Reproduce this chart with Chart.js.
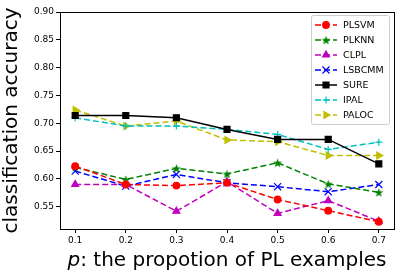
<!DOCTYPE html>
<html>
<head>
<meta charset="utf-8">
<script src="https://cdn.jsdelivr.net/npm/chart.js@4.4.0/dist/chart.umd.min.js"></script>
<style>
html, body { margin: 0; padding: 0; background: #fff; }
</style>
</head>
<body>
<canvas id="myChart" width="404" height="280"></canvas>
<script>
/* Datos */
const proporciones = [0.1, 0.2, 0.3, 0.4, 0.5, 0.6, 0.7];
const plsvm  = [0.623, 0.590, 0.588, 0.593, 0.563, 0.543, 0.523];
const plknn  = [0.621, 0.599, 0.619, 0.609, 0.629, 0.591, 0.576];
const clpl   = [0.590, 0.590, 0.542, 0.595, 0.538, 0.561, 0.524];
const lsbcmm = [0.614, 0.587, 0.608, 0.593, 0.586, 0.577, 0.590];
const sure   = [0.714, 0.714, 0.710, 0.689, 0.671, 0.671, 0.627];
const ipal   = [0.710, 0.695, 0.695, 0.689, 0.680, 0.653, 0.666];
const paloc  = [0.724, 0.695, 0.704, 0.670, 0.667, 0.642, 0.642];
const yTicks = [0.55, 0.60, 0.65, 0.70, 0.75, 0.80, 0.85, 0.90];
const xTicks = [0.1, 0.2, 0.3, 0.4, 0.5, 0.6, 0.7];

const FONT = '"DejaVu Sans", sans-serif';

/* estrella rellena para PLKNN */
const estrella = document.createElement('canvas');
estrella.width = 11;
estrella.height = 11;
const sc = estrella.getContext('2d');
sc.fillStyle = '#008000';
sc.beginPath();
for (let i = 0; i < 10; i++) {
    const r = i % 2 === 0 ? 4.8 : 2.0;
    const a = -Math.PI / 2 + i * Math.PI / 5;
    sc.lineTo(5.5 + r * Math.cos(a), 6 + r * Math.sin(a));
}
sc.closePath();
sc.fill();

const DASH = [6, 3];
const serie = (label, valores, color, estilo, radio, dash, rot) => ({
    label: label,
    data: proporciones.map((p, i) => ({ x: p, y: valores[i] })),
    borderColor: color,
    backgroundColor: color,
    pointBackgroundColor: color,
    pointBorderColor: color,
    pointStyle: estilo,
    pointRadius: radio,
    pointHoverRadius: radio,
    pointBorderWidth: 1.2,
    pointRotation: rot || 0,
    borderWidth: 1.5,
    borderDash: dash,
    tension: 0,
    fill: false
});

const datasets = [
    serie('PLSVM', plsvm, '#ff0000', 'circle', 3.3, DASH),
    serie('PLKNN', plknn, '#008000', estrella, 4, DASH),
    serie('CLPL', clpl, '#bf00bf', 'triangle', 4, DASH),
    serie('LSBCMM', lsbcmm, '#0000ff', 'crossRot', 5, DASH),
    serie('SURE', sure, '#000000', 'rect', 4.2, []),
    serie('IPAL', ipal, '#00bfbf', 'cross', 3.5, DASH),
    serie('PALOC', paloc, '#bfbf00', 'triangle', 4, DASH, 90)
];

/* marco de los ejes y leyenda */
const marco = {
    id: 'marco',
    afterDatasetsDraw(chart) {
        const a = chart.chartArea;
        const ctx = chart.ctx;
        ctx.save();
        ctx.strokeStyle = '#000';
        ctx.lineWidth = 1;
        ctx.setLineDash([]);
        ctx.strokeRect(Math.round(a.left) + 0.5, Math.round(a.top) + 0.5,
            Math.round(a.right - a.left), Math.round(a.bottom - a.top));
        ctx.restore();
    },
    afterDraw(chart) {
        const ctx = chart.ctx;
        ctx.save();
        // leyenda
        const bx = 311.5, by = 15.5, bw = 78, bh = 109;
        ctx.fillStyle = 'rgba(255,255,255,0.8)';
        ctx.strokeStyle = '#cccccc';
        ctx.lineWidth = 1;
        ctx.beginPath();
        if (ctx.roundRect) ctx.roundRect(bx, by, bw, bh, 2); else ctx.rect(bx, by, bw, bh);
        ctx.fill();
        ctx.stroke();
        chart.data.datasets.forEach((ds, i) => {
            const y = 25 + i * 15;
            ctx.strokeStyle = ds.borderColor;
            ctx.fillStyle = ds.borderColor;
            ctx.lineWidth = 1.5;
            ctx.setLineDash(ds.borderDash);
            ctx.beginPath();
            ctx.moveTo(315, y);
            ctx.lineTo(337, y);
            ctx.stroke();
            ctx.setLineDash([]);
            ctx.lineWidth = ds.pointBorderWidth;
            Chart.helpers.drawPoint(ctx, {
                pointStyle: ds.pointStyle,
                rotation: ds.pointRotation,
                radius: ds.pointRadius,
                borderWidth: ds.pointBorderWidth
            }, 326, y);
            ctx.fillStyle = '#000';
            ctx.font = '9.5px ' + FONT;
            ctx.textBaseline = 'middle';
            ctx.textAlign = 'left';
            ctx.fillText(ds.label, 343, y + 0.5);
        });
        // titulo del eje x con p en cursiva
        const a = chart.chartArea;
        const t1 = 'p';
        const t2 = ': the propotion of PL examples';
        ctx.font = 'italic 20px ' + FONT;
        const w1 = ctx.measureText(t1).width;
        ctx.font = '20px ' + FONT;
        const w2 = ctx.measureText(t2).width;
        const x0 = (a.left + a.right) / 2 - (w1 + w2) / 2;
        ctx.textBaseline = 'alphabetic';
        ctx.fillStyle = '#000';
        ctx.font = 'italic 20px ' + FONT;
        ctx.fillText(t1, x0, 266);
        ctx.font = '20px ' + FONT;
        ctx.fillText(t2, x0 + w1, 266);
        ctx.restore();
    }
};

const config = {
    type: 'line',
    data: { datasets: datasets },
    options: {
        responsive: false,
        animation: false,
        events: [],
        layout: { padding: { top: 12, right: 10, left: 0, bottom: 0 } },
        plugins: {
            legend: { display: false },
            tooltip: { enabled: false }
        },
        scales: {
            x: {
                type: 'linear',
                min: 0.07,
                max: 0.73,
                afterBuildTicks: s => { s.ticks = xTicks.map(v => ({ value: v })); },
                afterFit: s => { s.height = 51; },
                border: { display: false },
                grid: { drawOnChartArea: false, drawTicks: true, tickLength: 4, color: '#000', tickWidth: 1 },
                ticks: {
                    color: '#000',
                    padding: 2,
                    maxRotation: 0,
                    font: { family: FONT, size: 9 },
                    callback: v => v.toFixed(1)
                }
            },
            y: {
                type: 'linear',
                min: 0.51,
                max: 0.90,
                afterBuildTicks: s => { s.ticks = yTicks.map(v => ({ value: v })); },
                afterFit: s => { s.width = 60; },
                border: { display: false },
                grid: { drawOnChartArea: false, drawTicks: true, tickLength: 4, color: '#000', tickWidth: 1 },
                ticks: {
                    color: '#000',
                    padding: 2,
                    font: { family: FONT, size: 9 },
                    callback: v => v.toFixed(2)
                },
                title: {
                    display: true,
                    text: 'classification accuracy',
                    color: '#000',
                    padding: 0,
                    font: { family: FONT, size: 20 }
                }
            }
        }
    },
    plugins: [marco]
};

let myChart = new Chart(document.getElementById('myChart'), config);
</script>
</body>
</html>
